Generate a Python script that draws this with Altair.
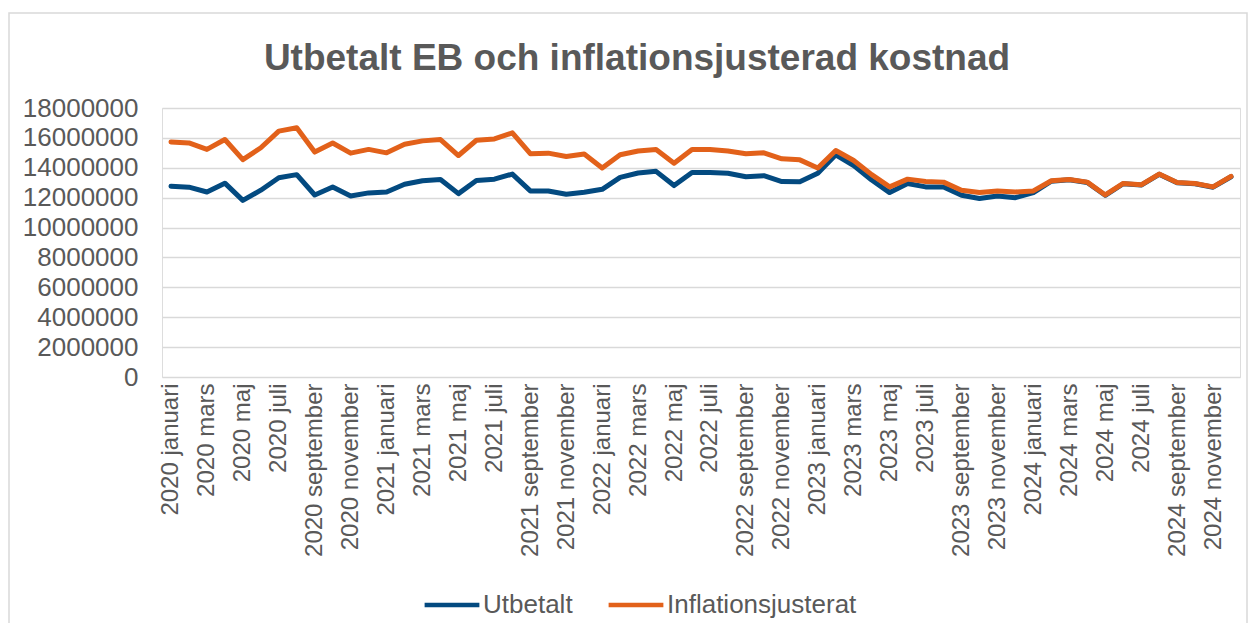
import altair as alt
import pandas as pd

years = [2020, 2021, 2022, 2023, 2024]
month_names = ["januari", "februari", "mars", "april", "maj", "juni", "juli",
               "augusti", "september", "oktober", "november", "december"]
months = [f"{y} {m}" for y in years for m in month_names]

utbetalt = [12770000, 12700000, 12380000, 12970000, 11820000, 12500000, 13330000, 13540000, 12180000, 12720000, 12110000, 12320000,
            12380000, 12900000, 13130000, 13220000, 12270000, 13150000, 13240000, 13580000, 12450000, 12450000, 12230000, 12360000,
            12560000, 13360000, 13650000, 13760000, 12810000, 13690000, 13690000, 13630000, 13400000, 13470000, 13080000, 13060000,
            13630000, 14870000, 14150000, 13180000, 12340000, 12950000, 12720000, 12720000, 12160000, 11950000, 12110000, 12000000,
            12340000, 13100000, 13200000, 13020000, 12160000, 12930000, 12840000, 13560000, 13000000, 12930000, 12700000, 13400000]

inflationsjusterat = [15730000, 15660000, 15230000, 15890000, 14550000, 15340000, 16450000, 16680000, 15050000, 15660000, 14980000, 15230000,
                      15000000, 15570000, 15800000, 15890000, 14820000, 15840000, 15930000, 16340000, 14940000, 14980000, 14760000, 14920000,
                      13990000, 14870000, 15120000, 15230000, 14310000, 15230000, 15230000, 15120000, 14940000, 15000000, 14600000, 14530000,
                      13990000, 15160000, 14490000, 13540000, 12720000, 13240000, 13080000, 13040000, 12500000, 12340000, 12450000, 12380000,
                      12450000, 13130000, 13220000, 13040000, 12180000, 12950000, 12860000, 13580000, 13020000, 12950000, 12720000, 13420000]

series_names = ["Utbetalt", "Inflationsjusterat"]
series_colors = ["#034a80", "#e2611a"]
y_ticks = [0, 2000000, 4000000, 6000000, 8000000, 10000000, 12000000, 14000000, 16000000, 18000000]

df = pd.concat([
    pd.DataFrame({"Månad": months, "Värde": utbetalt, "Serie": series_names[0]}),
    pd.DataFrame({"Månad": months, "Värde": inflationsjusterat, "Serie": series_names[1]}),
])

FONT = "Liberation Sans"
GREY = "#595959"

base = alt.Chart(df).mark_line(strokeWidth=5, strokeJoin="round", strokeCap="round").encode(
    x=alt.X("Månad:N", sort=months,
            scale=alt.Scale(type="point", padding=0.5),
            axis=alt.Axis(values=months[::2], labelAngle=-90, title=None, ticks=False,
                          domain=False, grid=False, labelFontSize=24, labelColor=GREY,
                          labelFont=FONT, labelPadding=6, labelOverlap=False, labelLimit=400)),
    y=alt.Y("Värde:Q", scale=alt.Scale(domain=[0, 18000000], nice=False),
            axis=alt.Axis(values=y_ticks, format="d", title=None, ticks=False, domain=False,
                          labelFontSize=26, labelColor=GREY, labelFont=FONT, labelPadding=24,
                          gridColor="#d9d9d9", gridWidth=1.5)),
    color=alt.Color("Serie:N",
                    scale=alt.Scale(domain=series_names, range=series_colors),
                    legend=alt.Legend(orient="none", legendX=260, legendY=467, direction="horizontal",
                                      title=None, symbolType="stroke", symbolSize=3000,
                                      symbolStrokeWidth=4.5, labelFontSize=26, labelFont=FONT,
                                      labelColor=GREY, labelOffset=1, columnPadding=26,
                                      labelLimit=500)),
)

frame = alt.Chart(alt.Data(values=[{}])).mark_rect(
    fill=None, stroke="#d9d9d9", strokeWidth=1.5
).encode(
    x=alt.value(-153), x2=alt.value(1085), y=alt.value(-95), y2=alt.value(540)
)

line_u = base.transform_filter(alt.datum.Serie == series_names[0])
line_i = base.transform_filter(alt.datum.Serie == series_names[1])

chart = alt.layer(frame, line_u, line_i).properties(
    width=1078, height=269,
    title=alt.TitleParams("Utbetalt EB och inflationsjusterad kostnad", fontSize=37, font=FONT,
                          fontWeight="bold", color=GREY, anchor="middle", frame="group",
                          baseline="alphabetic", offset=40, dx=-64, dy=135),
    autosize=alt.AutoSizeParams(type="none"),
    padding={"left": 154, "top": 100, "right": 8, "bottom": 246},
).configure_view(stroke=None).configure(background="white")

chart.save("out.html", embed_options={"renderer": "svg", "actions": False})
